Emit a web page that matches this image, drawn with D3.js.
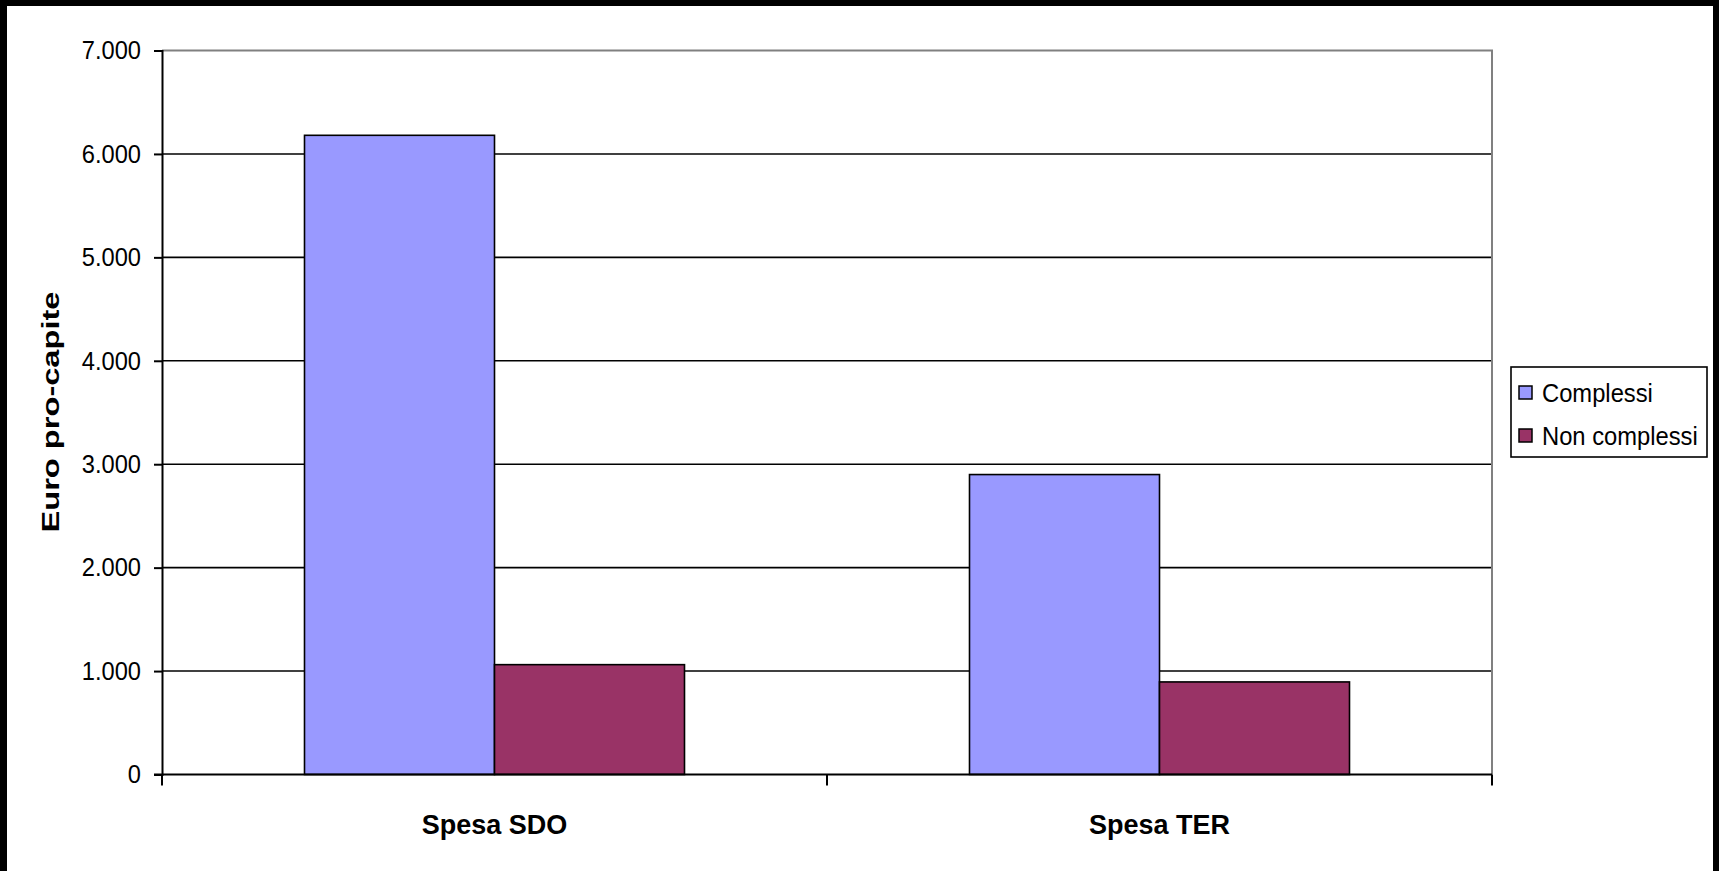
<!DOCTYPE html>
<html>
<head>
<meta charset="utf-8">
<script src="https://cdn.jsdelivr.net/npm/d3@7"></script>
<style>
  html, body { margin: 0; padding: 0; background: #000; }
  svg { display: block; }
  text { font-family: "Liberation Sans", Arial, sans-serif; fill: #000; }
</style>
</head>
<body>
<script>
// Spesa pro-capite per tipologia di ricovero
const categories = ["Spesa SDO", "Spesa TER"];
const seriesNames = ["Complessi", "Non complessi"];
const complessi = [6180, 2900];
const nonComplessi = [1062, 895];
const yTicks = [0, 1000, 2000, 3000, 4000, 5000, 6000, 7000];
const yTitle = "Euro pro-capite";

const colors = { "Complessi": "#9999FF", "Non complessi": "#993366" };

const W = 1719, H = 871;
const plot = { left: 162, right: 1492, top: 50.5, bottom: 774.5 };

const svg = d3.select("body").append("svg").attr("width", W).attr("height", H);

// white page inside the black frame
svg.append("rect").attr("x", 7).attr("y", 6).attr("width", 1706).attr("height", H - 6).attr("fill", "#fff");

const itLocale = d3.formatLocale({ decimal: ",", thousands: ".", grouping: [3], currency: ["€", ""] });
const fmt = itLocale.format(",");

const x = d3.scaleBand().domain(categories).range([plot.left, plot.right]).padding(0);
const xInner = d3.scaleBand().domain(seriesNames).range([0, x.bandwidth()]).paddingInner(0).paddingOuter(0.75);
const y = d3.scaleLinear().domain([0, 7000]).range([plot.bottom, plot.top]);

// gridlines
svg.append("g").selectAll("line")
  .data(yTicks.filter(v => v > 0 && v < 7000))
  .join("line")
  .attr("x1", plot.left).attr("x2", plot.right)
  .attr("y1", d => y(d)).attr("y2", d => y(d))
  .attr("stroke", "#000").attr("stroke-width", 1.6);

// plot area border (top and right)
svg.append("path")
  .attr("d", `M${plot.left},${y(7000)}H${plot.right}V${y(0)}`)
  .attr("fill", "none").attr("stroke", "#808080").attr("stroke-width", 2);

// bars
const rows = categories.map((c, i) => ({ cat: c, values: [
  { name: "Complessi", value: complessi[i] },
  { name: "Non complessi", value: nonComplessi[i] }
]}));

const groups = svg.append("g").selectAll("g").data(rows).join("g")
  .attr("transform", d => `translate(${x(d.cat)},0)`);

groups.selectAll("rect").data(d => d.values).join("rect")
  .attr("x", d => xInner(d.name))
  .attr("width", xInner.bandwidth())
  .attr("y", d => y(d.value))
  .attr("height", d => y(0) - y(d.value))
  .attr("fill", d => colors[d.name])
  .attr("stroke", "#000").attr("stroke-width", 1.6);

// y axis
const yAxis = svg.append("g")
  .attr("transform", `translate(${plot.left},0)`)
  .call(d3.axisLeft(y).tickValues(yTicks).tickFormat(fmt).tickSize(8).tickPadding(13));
yAxis.select(".domain").attr("stroke", "#000").attr("stroke-width", 2);
yAxis.selectAll(".tick line").attr("stroke", "#000").attr("stroke-width", 2);
yAxis.selectAll(".tick text")
  .attr("font-size", 26)
  .attr("font-family", "Liberation Sans, Arial, sans-serif")
  .attr("fill", "#000")
  .each(function () {
    // slightly condensed numerals
    const len = this.getComputedTextLength();
    d3.select(this).attr("textLength", len * 0.91).attr("lengthAdjust", "spacingAndGlyphs");
  });

// x axis line and category boundary ticks
svg.append("line")
  .attr("x1", plot.left - 8).attr("x2", plot.right)
  .attr("y1", y(0)).attr("y2", y(0))
  .attr("stroke", "#000").attr("stroke-width", 2);

const bounds = categories.map(c => x(c)).concat([x(categories[categories.length - 1]) + x.bandwidth()]);
svg.append("g").selectAll("line").data(bounds).join("line")
  .attr("x1", d => d).attr("x2", d => d)
  .attr("y1", y(0)).attr("y2", y(0) + 11)
  .attr("stroke", "#000").attr("stroke-width", 2);

// category labels
svg.append("g").selectAll("text").data(categories).join("text")
  .attr("x", d => x(d) + x.bandwidth() / 2)
  .attr("y", 834)
  .attr("text-anchor", "middle")
  .attr("font-size", 27).attr("font-weight", "bold")
  .text(d => d);

// y axis title
svg.append("text")
  .attr("transform", "translate(59,412) rotate(-90)")
  .attr("text-anchor", "middle")
  .attr("font-size", 23).attr("font-weight", "bold")
  .attr("textLength", 241).attr("lengthAdjust", "spacingAndGlyphs")
  .text(yTitle);

// legend
const legend = svg.append("g");
legend.append("rect")
  .attr("x", 1511).attr("y", 367).attr("width", 196).attr("height", 90)
  .attr("fill", "#fff").attr("stroke", "#000").attr("stroke-width", 1.6);

const items = legend.selectAll("g.item").data(seriesNames).join("g")
  .attr("class", "item")
  .attr("transform", (d, i) => `translate(1519,${386 + i * 43})`);
items.append("rect")
  .attr("width", 13).attr("height", 13)
  .attr("fill", d => colors[d]).attr("stroke", "#000").attr("stroke-width", 1.5);
items.append("text")
  .attr("x", 23).attr("y", 16)
  .attr("font-size", 25)
  .text(d => d)
  .each(function () {
    const len = this.getComputedTextLength();
    d3.select(this).attr("textLength", len * 0.95).attr("lengthAdjust", "spacingAndGlyphs");
  });
</script>
</body>
</html>
